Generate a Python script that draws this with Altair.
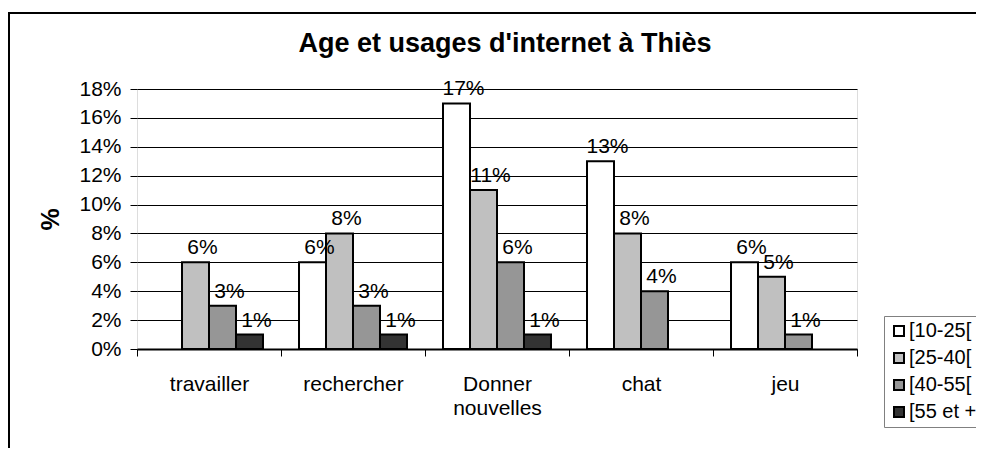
import altair as alt
import pandas as pd

FONT = "Liberation Sans"

# ---- data ----
categories = ["travailler", "rechercher", "Donner nouvelles", "chat", "jeu"]
age_groups = ["[10-25[", "[25-40[", "[40-55[", "[55 et +"]
pct_10_25 = [0, 6, 17, 13, 6]
pct_25_40 = [6, 8, 11, 8, 5]
pct_40_55 = [3, 3, 6, 4, 1]
pct_55_plus = [1, 1, 1, 0, 0]
y_ticks = [0, 2, 4, 6, 8, 10, 12, 14, 16, 18]
title_text = "Age et usages d'internet à Thiès"

colors = ["#ffffff", "#c0c0c0", "#969696", "#333333"]

series = [pct_10_25, pct_25_40, pct_40_55, pct_55_plus]
rows = []
for g, vals in zip(age_groups, series):
    for c, v in zip(categories, vals):
        if v > 0:
            rows.append({"usage": c, "age": g, "value": v / 100})
df = pd.DataFrame(rows)

x_enc = alt.X(
    "usage:N",
    sort=categories,
    scale=alt.Scale(domain=categories, paddingInner=0, paddingOuter=0),
    axis=alt.Axis(
        title=None,
        labelAngle=0,
        tickBand="extent",
        labelFont=FONT,
        labelFontSize=21,
        labelColor="black",
        labelPadding=17,
        labelLineHeight=24,
        labelExpr="datum.label == 'Donner nouvelles' ? ['Donner', 'nouvelles'] : datum.label",
        tickSize=7,
        tickColor="black",
        domainColor="black",
        domainWidth=2,
        grid=False,
    ),
)
xoff_enc = alt.XOffset(
    "age:N",
    sort=age_groups,
    scale=alt.Scale(domain=age_groups, paddingInner=0, paddingOuter=0.667),
)
y_enc = alt.Y(
    "value:Q",
    scale=alt.Scale(domain=[0, 0.18], nice=False),
    axis=alt.Axis(
        title="%",
        titleFont=FONT,
        titleFontSize=25,
        titleFontWeight="bold",
        titleColor="black",
        titleAngle=270,
        titleX=-87,
        titleY=130,
        titleAlign="center",
        titleBaseline="middle",
        values=[v / 100 for v in y_ticks],
        format=".0%",
        labelFont=FONT,
        labelFontSize=21,
        labelColor="black",
        labelPadding=9,
        labelOverlap=False,
        labelFlush=False,
        tickSize=7,
        tickColor="black",
        domain=False,
        grid=True,
        gridColor="black",
        gridWidth=1,
    ),
)

base = alt.Chart(df).encode(x=x_enc, xOffset=xoff_enc, y=y_enc)

bars = base.mark_bar(stroke="black", strokeWidth=2).encode(
    fill=alt.Fill(
        "age:N",
        sort=age_groups,
        scale=alt.Scale(domain=age_groups, range=colors),
        legend=alt.Legend(
            title=None,
            orient="none",
            legendX=747,
            legendY=227,
            symbolType="square",
            symbolSize=100,
            symbolStrokeColor="black",
            symbolStrokeWidth=2,
            labelFont=FONT,
            labelFontSize=20,
            labelColor="black",
            labelOffset=0,
            rowPadding=7,
            padding=5,
            strokeColor="#808080",
            fillColor="white",
        ),
    ),
)

labels = base.mark_text(
    font=FONT, fontSize=21, color="black", baseline="alphabetic", dy=-8, dx=7
).encode(text=alt.Text("value:Q", format=".0%"))

single = pd.DataFrame({"k": [0]})
frame_left = alt.Chart(single).mark_rule(color="black", strokeWidth=2).encode(
    x=alt.value(-128), y=alt.value(-77), y2=alt.value(400)
)
frame_top = alt.Chart(single).mark_rule(color="black", strokeWidth=2).encode(
    x=alt.value(-129), x2=alt.value(900), y=alt.value(-76)
)
title = alt.Chart(single).mark_text(
    text=title_text,
    font=FONT,
    fontSize=27,
    fontWeight="bold",
    color="black",
    align="center",
    baseline="alphabetic",
).encode(x=alt.value(368), y=alt.value(-37))

chart = (
    alt.layer(bars, labels, frame_left, frame_top, title)
    .properties(
        width=720,
        height=260,
        autosize=alt.AutoSizeParams(type="none"),
        padding={"left": 129, "top": 81, "right": 119, "bottom": 99},
    )
    .configure_view(stroke="#808080", strokeWidth=2)
    .configure(background="white")
)

chart.save("out.html", embed_options={"renderer": "svg", "actions": False})
